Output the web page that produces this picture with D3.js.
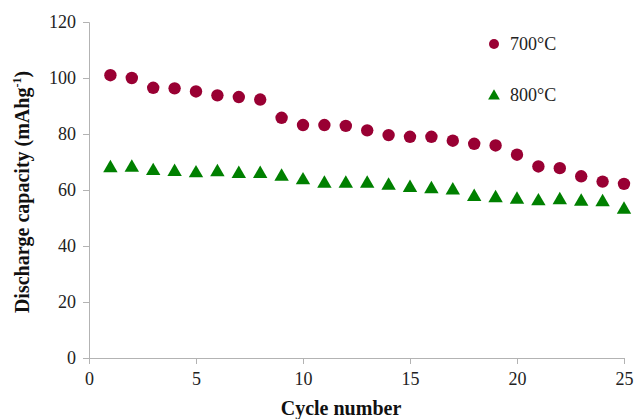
<!DOCTYPE html>
<html><head><meta charset="utf-8">
<script src="https://cdn.jsdelivr.net/npm/d3@7"></script>
<style>body{margin:0;background:#fff}svg{display:block}svg text{font-family:"Liberation Serif","Times New Roman",serif !important}</style>
</head><body>
<svg id="c" width="636" height="419"></svg>
<script>
const cycles = d3.range(1, 26);
const series700 = [101,100,96.5,96.3,95.2,93.8,93.2,92.3,85.8,83.2,83.2,82.9,81.3,79.6,79,79,77.6,76.5,75.9,72.6,68.4,67.8,64.9,63,62.2];
const series800 = [67.8,68,66.8,66.5,66,66.4,65.8,65.8,64.8,63.5,62.3,62.3,62.3,61.6,60.8,60.3,59.9,57.6,57.1,56.6,56,56.4,55.9,55.7,53];
const xTicks = [0,5,10,15,20,25];
const yTicks = [0,20,40,60,80,100,120];
const seriesNames = ["700°C","800°C"];

const svg = d3.select("#c");
const x = d3.scaleLinear().domain([0,25]).range([89,624]);
const y = d3.scaleLinear().domain([0,120]).range([358,22]);
const axisColor = "#b3b3b3";

const xa = svg.append("g").attr("transform","translate(0,358)")
  .call(d3.axisBottom(x).tickValues(xTicks).tickSize(6).tickPadding(8).tickFormat(d3.format("d")));
const ya = svg.append("g").attr("transform","translate(89,0)")
  .call(d3.axisLeft(y).tickValues(yTicks).tickSize(6).tickPadding(7).tickFormat(d3.format("d")));
[xa,ya].forEach(a=>{
  a.attr("font-family",null).attr("font-size",null);
  a.select(".domain").attr("stroke",axisColor);
  a.selectAll(".tick line").attr("stroke",axisColor);
  a.selectAll(".tick text").attr("fill","#222").style("font-size","18px");
});

svg.append("g").selectAll("circle").data(cycles).join("circle")
  .attr("cx",d=>x(d)).attr("cy",(d,i)=>y(series700[i])).attr("r",6.2).attr("fill","#990033");

const tri = d3.symbol().type(d3.symbolTriangle).size(90);
svg.append("g").selectAll("path").data(cycles).join("path")
  .attr("d",tri).attr("transform",(d,i)=>`translate(${x(d)},${y(series800[i])})`).attr("fill","#008000");

// legend
svg.append("circle").attr("cx",494).attr("cy",44).attr("r",5).attr("fill","#990033");
svg.append("path").attr("d",d3.symbol().type(d3.symbolTriangle).size(60)).attr("transform","translate(494,96)").attr("fill","#008000");
svg.append("text").attr("x",510).attr("y",50).text(seriesNames[0]).style("font-size","18px").attr("fill","#222");
svg.append("text").attr("x",510).attr("y",101).text(seriesNames[1]).style("font-size","18px").attr("fill","#222");

// axis titles
svg.append("text").attr("x",341).attr("y",415).attr("text-anchor","middle")
  .style("font-size","20px").style("font-weight","bold").attr("fill","#111").text("Cycle number");
const yt = svg.append("text").attr("transform","translate(29,192) rotate(-90)").attr("text-anchor","middle")
  .style("font-size","20px").style("font-weight","bold").attr("fill","#111");
yt.append("tspan").text("Discharge capacity (mAhg");
yt.append("tspan").attr("dy",-8).style("font-size","12px").text("-1");
yt.append("tspan").attr("dy",8).text(")");
</script>
</body></html>
